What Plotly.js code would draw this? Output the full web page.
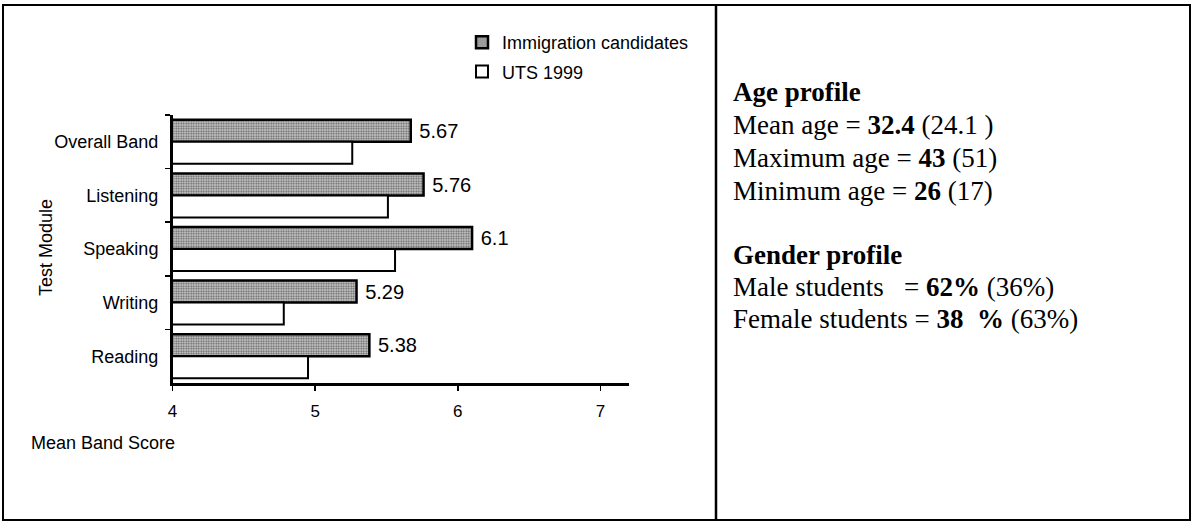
<!DOCTYPE html>
<html>
<head>
<meta charset="utf-8">
<script src="https://cdn.plot.ly/plotly-3.0.1.min.js"></script>
<style>
  html, body { margin: 0; padding: 0; background: #fff; }
  #chart { width: 1193px; height: 523px; }
</style>
</head>
<body>
<div id="chart"></div>
<script>
// test modules, top to bottom
const modules = ['Overall Band', 'Listening', 'Speaking', 'Writing', 'Reading'];
const immigration = [5.67, 5.76, 6.1, 5.29, 5.38];
const uts1999 = [5.26, 5.51, 5.56, 4.78, 4.95];
const xTicks = [4, 5, 6, 7];

const ageLines = [
    '<b>Age profile</b>',
    'Mean age = <b>32.4</b> (24.1 )',
    'Maximum age = <b>43</b> (51)',
    'Minimum age = <b>26</b> (17)',
];
const genderLines = [
    '<b>Gender profile</b>',
    'Male students \u00a0\u00a0= <b>62%</b> (36%)',
    'Female students = <b>38 \u00a0%</b> (63%)',
];

const W = 1193, H = 523;
const px = (x) => x / W;
const py = (y) => 1 - y / H;

const sans = 'Arial, "Liberation Sans", sans-serif';
const serif = '"Times New Roman", "Liberation Serif", serif';

const traces = [
    {
        type: 'bar',
        orientation: 'h',
        name: 'Immigration candidates',
        legendgroup: 'imm',
        y: modules,
        x: immigration,
        marker: {
            color: '#b4b4b4',
            line: { color: '#000', width: 2.5 },
            pattern: { shape: '.', fgcolor: '#5a5a5a', bgcolor: '#c4c4c4', size: 2.5, solidity: 0.4 },
        },
        text: immigration.map((v) => '\u00a0' + v),
        textposition: 'outside',
        textfont: { family: sans, size: 21, color: '#000' },
        cliponaxis: false,
        hoverinfo: 'x+y',
    },
    {
        type: 'bar',
        orientation: 'h',
        name: 'UTS 1999',
        legendgroup: 'uts',
        y: modules,
        x: uts1999,
        marker: {
            color: '#fff',
            line: { color: '#000', width: 2 },
        },
        hoverinfo: 'x+y',
    },
];

let annotations = [];
ageLines.forEach((t, i) => {
    annotations.push({
        xref: 'paper', yref: 'paper',
        x: px(731), y: py(92 + i * 33),
        xanchor: 'left', yanchor: 'middle', align: 'left',
        showarrow: false, text: t,
        font: { family: serif, size: 27, color: '#000' },
    });
});
genderLines.forEach((t, i) => {
    annotations.push({
        xref: 'paper', yref: 'paper',
        x: px(731), y: py(255 + i * 32),
        xanchor: 'left', yanchor: 'middle', align: 'left',
        showarrow: false, text: t,
        font: { family: serif, size: 27, color: '#000' },
    });
});
annotations.push(
    {
        xref: 'paper', yref: 'paper',
        x: px(46), y: py(248),
        xanchor: 'center', yanchor: 'middle',
        textangle: -90, showarrow: false, text: 'Test Module',
        font: { family: sans, size: 18, color: '#000' },
    },
    {
        xref: 'paper', yref: 'paper',
        x: px(29), y: py(443),
        xanchor: 'left', yanchor: 'middle',
        showarrow: false, text: 'Mean Band Score',
        font: { family: sans, size: 18, color: '#000' },
    }
);

const layout = {
    width: W,
    height: H,
    margin: { l: 0, r: 0, t: 0, b: 0, pad: 0 },
    paper_bgcolor: '#fff',
    plot_bgcolor: '#fff',
    font: { family: sans, size: 18, color: '#000' },
    barmode: 'group',
    bargap: 0.18,
    bargroupgap: 0,
    showlegend: true,
    legend: {
        x: px(462), y: py(24),
        xanchor: 'left', yanchor: 'top',
        traceorder: 'grouped',
        tracegroupgap: 3,
        bgcolor: 'rgba(0,0,0,0)',
        font: { family: sans, size: 18, color: '#000' },
        itemwidth: 30,
    },
    xaxis: {
        domain: [px(172.5), px(629)],
        range: [4, 7.2],
        tickvals: xTicks,
        ticktext: xTicks.map(String),
        ticks: 'outside',
        ticklen: 5,
        tickwidth: 1.5,
        tickcolor: '#000',
        showline: true,
        linecolor: '#000',
        linewidth: 2.5,
        showgrid: false,
        zeroline: false,
        ticklabelstandoff: 6,
        tickfont: { family: sans, size: 17, color: '#000' },
        anchor: 'y',
        fixedrange: true,
    },
    yaxis: {
        domain: [py(383), py(115)],
        autorange: 'reversed',
        type: 'category',
        ticks: 'outside',
        tickson: 'boundaries',
        ticklen: 5,
        tickwidth: 1.5,
        tickcolor: '#000',
        showline: true,
        linecolor: '#000',
        linewidth: 2.5,
        showgrid: false,
        zeroline: false,
        ticklabelstandoff: 8,
        tickfont: { family: sans, size: 18, color: '#000' },
        fixedrange: true,
    },
    shapes: [
        {
            type: 'rect', xref: 'paper', yref: 'paper',
            x0: px(3), x1: px(1190), y0: py(520), y1: py(5),
            line: { color: '#000', width: 2 },
        },
        {
            type: 'line', xref: 'paper', yref: 'paper',
            x0: px(716), x1: px(716), y0: py(520), y1: py(5),
            line: { color: '#000', width: 2.5 },
        },
    ],
    annotations: annotations,
};

Plotly.newPlot('chart', traces, layout, { displayModeBar: false, staticPlot: true });
</script>
</body>
</html>
